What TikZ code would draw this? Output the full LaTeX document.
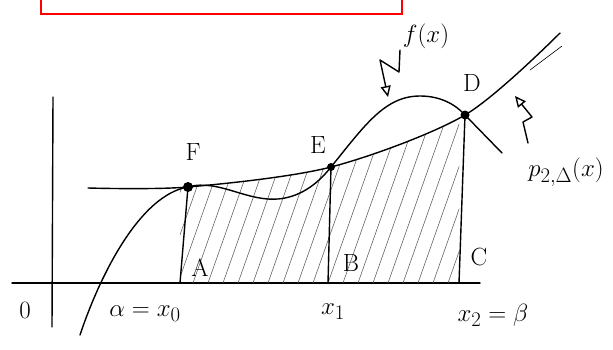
\documentclass[tikz,border=0pt]{standalone}
\usepackage{amsmath}
\usepackage{tikz}
\usetikzlibrary{arrows.meta}
\tikzset{
    pen/.style={line width=1.4pt, line cap=round, line join=round},
    hatchline/.style={line width=0.6pt, black!60},
    bolt/.style={pen, -{Triangle[open,length=11pt,width=10pt]}},
    lbl/.style={font=\Huge, inner sep=0pt},
}
\newcommand{\knot}[2]{
    \fill (#1) circle (#2);
}

\begin{document}
\begin{tikzpicture}[x=1pt,y=-1pt]
        \useasboundingbox (0,0) rectangle (613,349);
        \draw[red, line width=2pt] (41,-5) rectangle (402,14);
        % axes
        \coordinate (xl) at (12,283);
        \coordinate (xr) at (480,283);
        \coordinate (yb) at (52,327);
        \coordinate (yt) at (53,97);
        \draw[pen] (xl) -- (xr);
        \draw[pen] (yb) -- (yt);
        % nodes and their feet
        \coordinate (F) at (188,187);
        \coordinate (E) at (331,167);
        \coordinate (D) at (465,115);
        \coordinate (A0) at (180,283);
        \coordinate (B0) at (328,283);
        \coordinate (C0) at (459,283);
        \begin{scope}
            \clip (A0) -- (180,90) -- (459,90) -- (C0) -- cycle;
            \clip plot[smooth] coordinates {(88,188) (F) (E) (D) (560,33)} -- (560,283) -- (88,283) -- cycle;
            \foreach \i in {118,133,...,470}
                \draw[hatchline] (\i,283) -- ++(60,-170);
        \end{scope}
        \draw[pen] plot[smooth] coordinates {(88,188) (F) (E) (D) (560,33)}; % parabola
        \draw[pen, line width=0.6pt] (530,70) -- (562,46);
        \draw[pen] (80,335) .. controls (100,275) and (140,195) .. (F)
            .. controls (220,178) and (250,205) .. (285,198)
            .. controls (305,194) and (320,181) .. (E)
            .. controls (365,125) and (385,96) .. (420,96)
            .. controls (440,96) and (455,104) .. (D) -- (502,153); % f
        \draw[pen] (F) -- (A0);
        \draw[pen] (E) -- (B0);
        \draw[pen] (D) -- (C0);
        \knot{F}{5pt}
        \knot{E}{4pt}
        \knot{D}{4.5pt}
        % labels
        \node[lbl] (Fl) at (193,152) {F};
        \node[lbl] (El) at (318,145) {E};
        \node[lbl] (Dl) at (472,83) {D};
        \node[lbl] (Al) at (200,268) {A};
        \node[lbl] (Bl) at (351,263) {B};
        \node[lbl] (Cl) at (479,257) {C};
        \node[lbl] (O) at (25,310) {$0$};
        \node[lbl] (x0) at (145,314) {$\alpha = x_0$};
        \node[lbl] (x1) at (333,312) {$x_1$};
        \node[lbl] (x2) at (493,315) {$x_2 = \beta$};
        \node[lbl] (fl) at (426,36) {$f(x)$};
        \node[lbl] (pl) at (566,172) {$p_{2,\Delta}(x)$};
        % pointers
        \coordinate (fa) at (400,50);
        \coordinate (fb) at (399,72);
        \coordinate (fc) at (380,60);
        \coordinate (ft) at (388,97);
        \draw[bolt] (fa) -- (fb) -- (fc) -- (ft);
        \coordinate (pa) at (528,143);
        \coordinate (pb) at (523,122);
        \coordinate (pc) at (532,117);
        \coordinate (pt) at (515,96);
        \draw[bolt] (pa) -- (pb) -- (pc) -- (pt);
\end{tikzpicture}
\end{document}
